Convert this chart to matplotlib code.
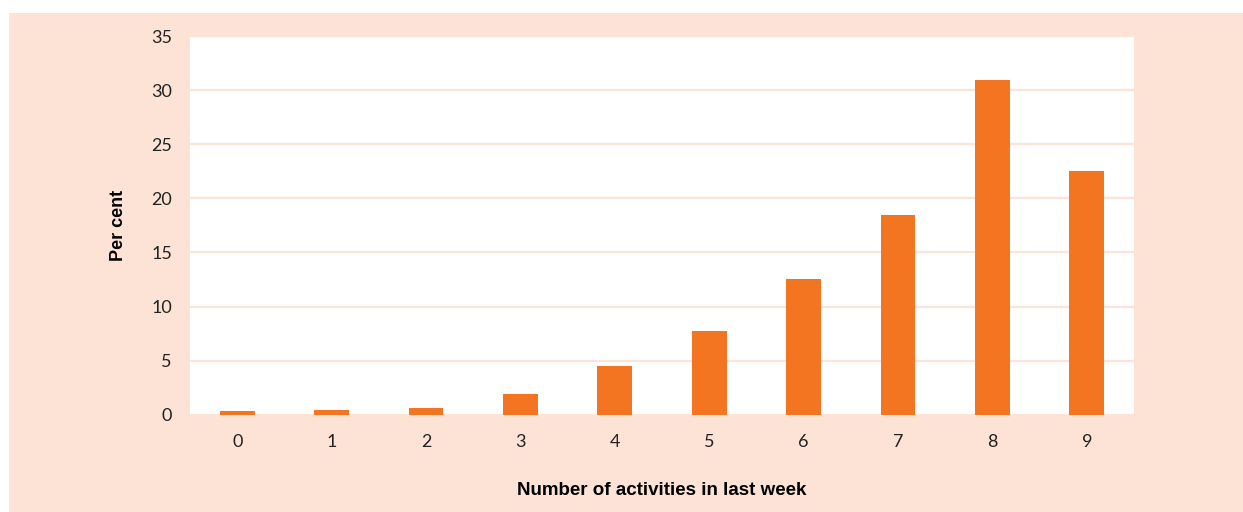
import matplotlib
matplotlib.use("Agg")
import matplotlib.pyplot as plt
from matplotlib.patches import Rectangle

categories = ["0", "1", "2", "3", "4", "5", "6", "7", "8", "9"]
per_cent = [0.3, 0.4, 0.6, 1.9, 4.5, 7.7, 12.5, 18.5, 30.9, 22.5]
y_ticks = [0, 5, 10, 15, 20, 25, 30, 35]

PEACH = "#FCE3D6"
ORANGE = "#F47521"
GRID = "#FDE4D7"

fig = plt.figure(figsize=(12.43, 5.12), dpi=100)
fig.patch.set_facecolor("white")
fig.patches.append(Rectangle((9 / 1243, 0), 1 - 9 / 1243, (512 - 13) / 512,
                             transform=fig.transFigure, facecolor=PEACH,
                             edgecolor="none", zorder=-5))

ax = fig.add_axes([190 / 1243, (512 - 414.7) / 512, (1134 - 190) / 1243, (414.7 - 36) / 512])
ax.set_zorder(2)
ax.set_facecolor("white")
x = range(len(categories))
ax.bar(x, per_cent, width=0.37, color=ORANGE, zorder=3)

ax.set_xlim(-0.5, len(categories) - 0.5)
ax.set_ylim(0, 35)
ax.set_yticks(y_ticks)
ax.set_xticks(list(x))
ax.set_xticklabels(categories)
ax.yaxis.grid(True, color=GRID, linewidth=1.6, zorder=1)
ax.set_axisbelow(True)
for s in ax.spines.values():
    s.set_visible(False)
ax.tick_params(axis="both", length=0, labelsize=13, labelcolor="#222222")
ax.tick_params(axis="y", pad=13)
ax.tick_params(axis="x", pad=14)
for lab in ax.get_xticklabels() + ax.get_yticklabels():
    lab.set_family("Lato")

ax.set_ylabel("Per cent", fontsize=13, fontweight="bold", family="Liberation Sans", labelpad=17)
ax.set_xlabel("Number of activities in last week", fontsize=13.5, fontweight="bold",
              family="Liberation Sans", labelpad=23)

fig.savefig("out.png", dpi=100, facecolor=fig.get_facecolor())
